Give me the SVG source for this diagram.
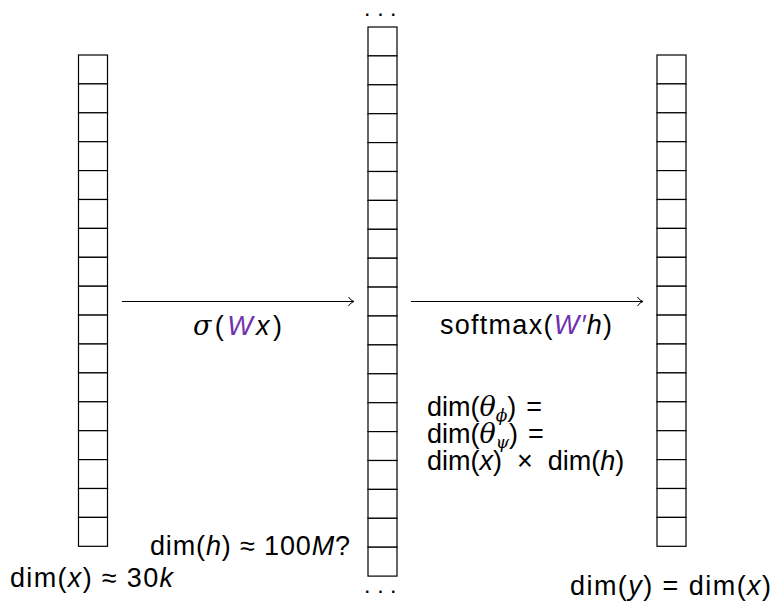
<svg xmlns="http://www.w3.org/2000/svg" width="774" height="604" viewBox="0 0 774 604">
<style>
.cell{fill:#fff;stroke:#000;stroke-width:1.2}
.t{font-family:"Liberation Sans",Arial,sans-serif;font-size:27px;fill:#000}
.i{font-style:italic}
.w{fill:#7131B0;font-style:italic}
.g{font-family:"DejaVu Serif","Liberation Serif",serif;font-style:italic}
.c{stroke:#000;stroke-width:1.1;fill:none}
.dot{font-family:"Liberation Sans",Arial,sans-serif;font-size:16px;font-weight:bold;fill:#000}
</style>
<defs>
<marker id="arr" markerWidth="10" markerHeight="12" refX="8" refY="6" orient="auto" markerUnits="userSpaceOnUse">
<path d="M2.5,1.5 Q4.5,5 8,6 Q4.5,7 2.5,10.5" fill="none" stroke="#000" stroke-width="1"/>
</marker>
</defs>
<g id="input-layer">
<rect class="cell" x="78.5" y="55" width="29" height="28.9"/>
<rect class="cell" x="78.5" y="83.9" width="29" height="28.9"/>
<rect class="cell" x="78.5" y="112.8" width="29" height="28.9"/>
<rect class="cell" x="78.5" y="141.7" width="29" height="28.9"/>
<rect class="cell" x="78.5" y="170.6" width="29" height="28.9"/>
<rect class="cell" x="78.5" y="199.5" width="29" height="28.9"/>
<rect class="cell" x="78.5" y="228.4" width="29" height="28.9"/>
<rect class="cell" x="78.5" y="257.3" width="29" height="28.9"/>
<rect class="cell" x="78.5" y="286.2" width="29" height="28.9"/>
<rect class="cell" x="78.5" y="315.1" width="29" height="28.9"/>
<rect class="cell" x="78.5" y="344" width="29" height="28.9"/>
<rect class="cell" x="78.5" y="372.9" width="29" height="28.9"/>
<rect class="cell" x="78.5" y="401.8" width="29" height="28.9"/>
<rect class="cell" x="78.5" y="430.7" width="29" height="28.9"/>
<rect class="cell" x="78.5" y="459.6" width="29" height="28.9"/>
<rect class="cell" x="78.5" y="488.5" width="29" height="28.9"/>
<rect class="cell" x="78.5" y="517.4" width="29" height="28.9"/>
<text class="t" x="10" y="587" textLength="163" lengthAdjust="spacing">dim(<tspan class="i">x</tspan>) ≈ 30<tspan class="i">k</tspan></text>
</g>
<g id="hidden-layer">
<text class="dot" x="365 378.3 391" y="15.5">...</text>
<rect class="cell" x="368" y="27" width="29" height="28.9"/>
<rect class="cell" x="368" y="55.9" width="29" height="28.9"/>
<rect class="cell" x="368" y="84.8" width="29" height="28.9"/>
<rect class="cell" x="368" y="113.7" width="29" height="28.9"/>
<rect class="cell" x="368" y="142.6" width="29" height="28.9"/>
<rect class="cell" x="368" y="171.5" width="29" height="28.9"/>
<rect class="cell" x="368" y="200.4" width="29" height="28.9"/>
<rect class="cell" x="368" y="229.3" width="29" height="28.9"/>
<rect class="cell" x="368" y="258.2" width="29" height="28.9"/>
<rect class="cell" x="368" y="287.1" width="29" height="28.9"/>
<rect class="cell" x="368" y="316" width="29" height="28.9"/>
<rect class="cell" x="368" y="344.9" width="29" height="28.9"/>
<rect class="cell" x="368" y="373.8" width="29" height="28.9"/>
<rect class="cell" x="368" y="402.7" width="29" height="28.9"/>
<rect class="cell" x="368" y="431.6" width="29" height="28.9"/>
<rect class="cell" x="368" y="460.5" width="29" height="28.9"/>
<rect class="cell" x="368" y="489.4" width="29" height="28.9"/>
<rect class="cell" x="368" y="518.3" width="29" height="28.9"/>
<rect class="cell" x="368" y="547.2" width="29" height="28.9"/>
<text class="dot" x="365 378.3 391" y="593">...</text>
<text class="t" x="150" y="555" textLength="200" lengthAdjust="spacing">dim(<tspan class="i">h</tspan>) ≈ 100<tspan class="i">M</tspan>?</text>
<text class="t" x="427" y="416"><tspan>dim(</tspan><tspan class="g">θ</tspan><tspan class="g" font-size="17" dy="5">ϕ</tspan><tspan dy="-5">)</tspan><tspan dx="10">=</tspan><tspan x="427" y="443">dim(</tspan><tspan class="g">θ</tspan><tspan class="g" font-size="17" dy="5">ψ</tspan><tspan dy="-5">)</tspan><tspan dx="10">=</tspan><tspan x="427" y="470">dim(</tspan><tspan class="i">x</tspan><tspan>)</tspan><tspan dx="15">×</tspan><tspan dx="15">dim(</tspan><tspan class="i">h</tspan><tspan>)</tspan></text>
</g>
<g id="output-layer">
<rect class="cell" x="657" y="55" width="29" height="28.9"/>
<rect class="cell" x="657" y="83.9" width="29" height="28.9"/>
<rect class="cell" x="657" y="112.8" width="29" height="28.9"/>
<rect class="cell" x="657" y="141.7" width="29" height="28.9"/>
<rect class="cell" x="657" y="170.6" width="29" height="28.9"/>
<rect class="cell" x="657" y="199.5" width="29" height="28.9"/>
<rect class="cell" x="657" y="228.4" width="29" height="28.9"/>
<rect class="cell" x="657" y="257.3" width="29" height="28.9"/>
<rect class="cell" x="657" y="286.2" width="29" height="28.9"/>
<rect class="cell" x="657" y="315.1" width="29" height="28.9"/>
<rect class="cell" x="657" y="344" width="29" height="28.9"/>
<rect class="cell" x="657" y="372.9" width="29" height="28.9"/>
<rect class="cell" x="657" y="401.8" width="29" height="28.9"/>
<rect class="cell" x="657" y="430.7" width="29" height="28.9"/>
<rect class="cell" x="657" y="459.6" width="29" height="28.9"/>
<rect class="cell" x="657" y="488.5" width="29" height="28.9"/>
<rect class="cell" x="657" y="517.4" width="29" height="28.9"/>
<text class="t" x="570" y="595" textLength="201" lengthAdjust="spacing">dim(<tspan class="i">y</tspan>) = dim(<tspan class="i">x</tspan>)</text>
</g>
<g id="connectors">
<line class="c" x1="122" y1="301.5" x2="354" y2="301.5" marker-end="url(#arr)"/>
<text class="t" x="193" y="335" textLength="89" lengthAdjust="spacing"><tspan class="g">σ</tspan>(<tspan class="w">W</tspan><tspan class="i">x</tspan>)</text>
<line class="c" x1="411" y1="301.5" x2="643" y2="301.5" marker-end="url(#arr)"/>
<text class="t" x="440" y="334" textLength="172" lengthAdjust="spacing">softmax(<tspan class="w">W′</tspan><tspan class="i">h</tspan>)</text>
</g>
</svg>
